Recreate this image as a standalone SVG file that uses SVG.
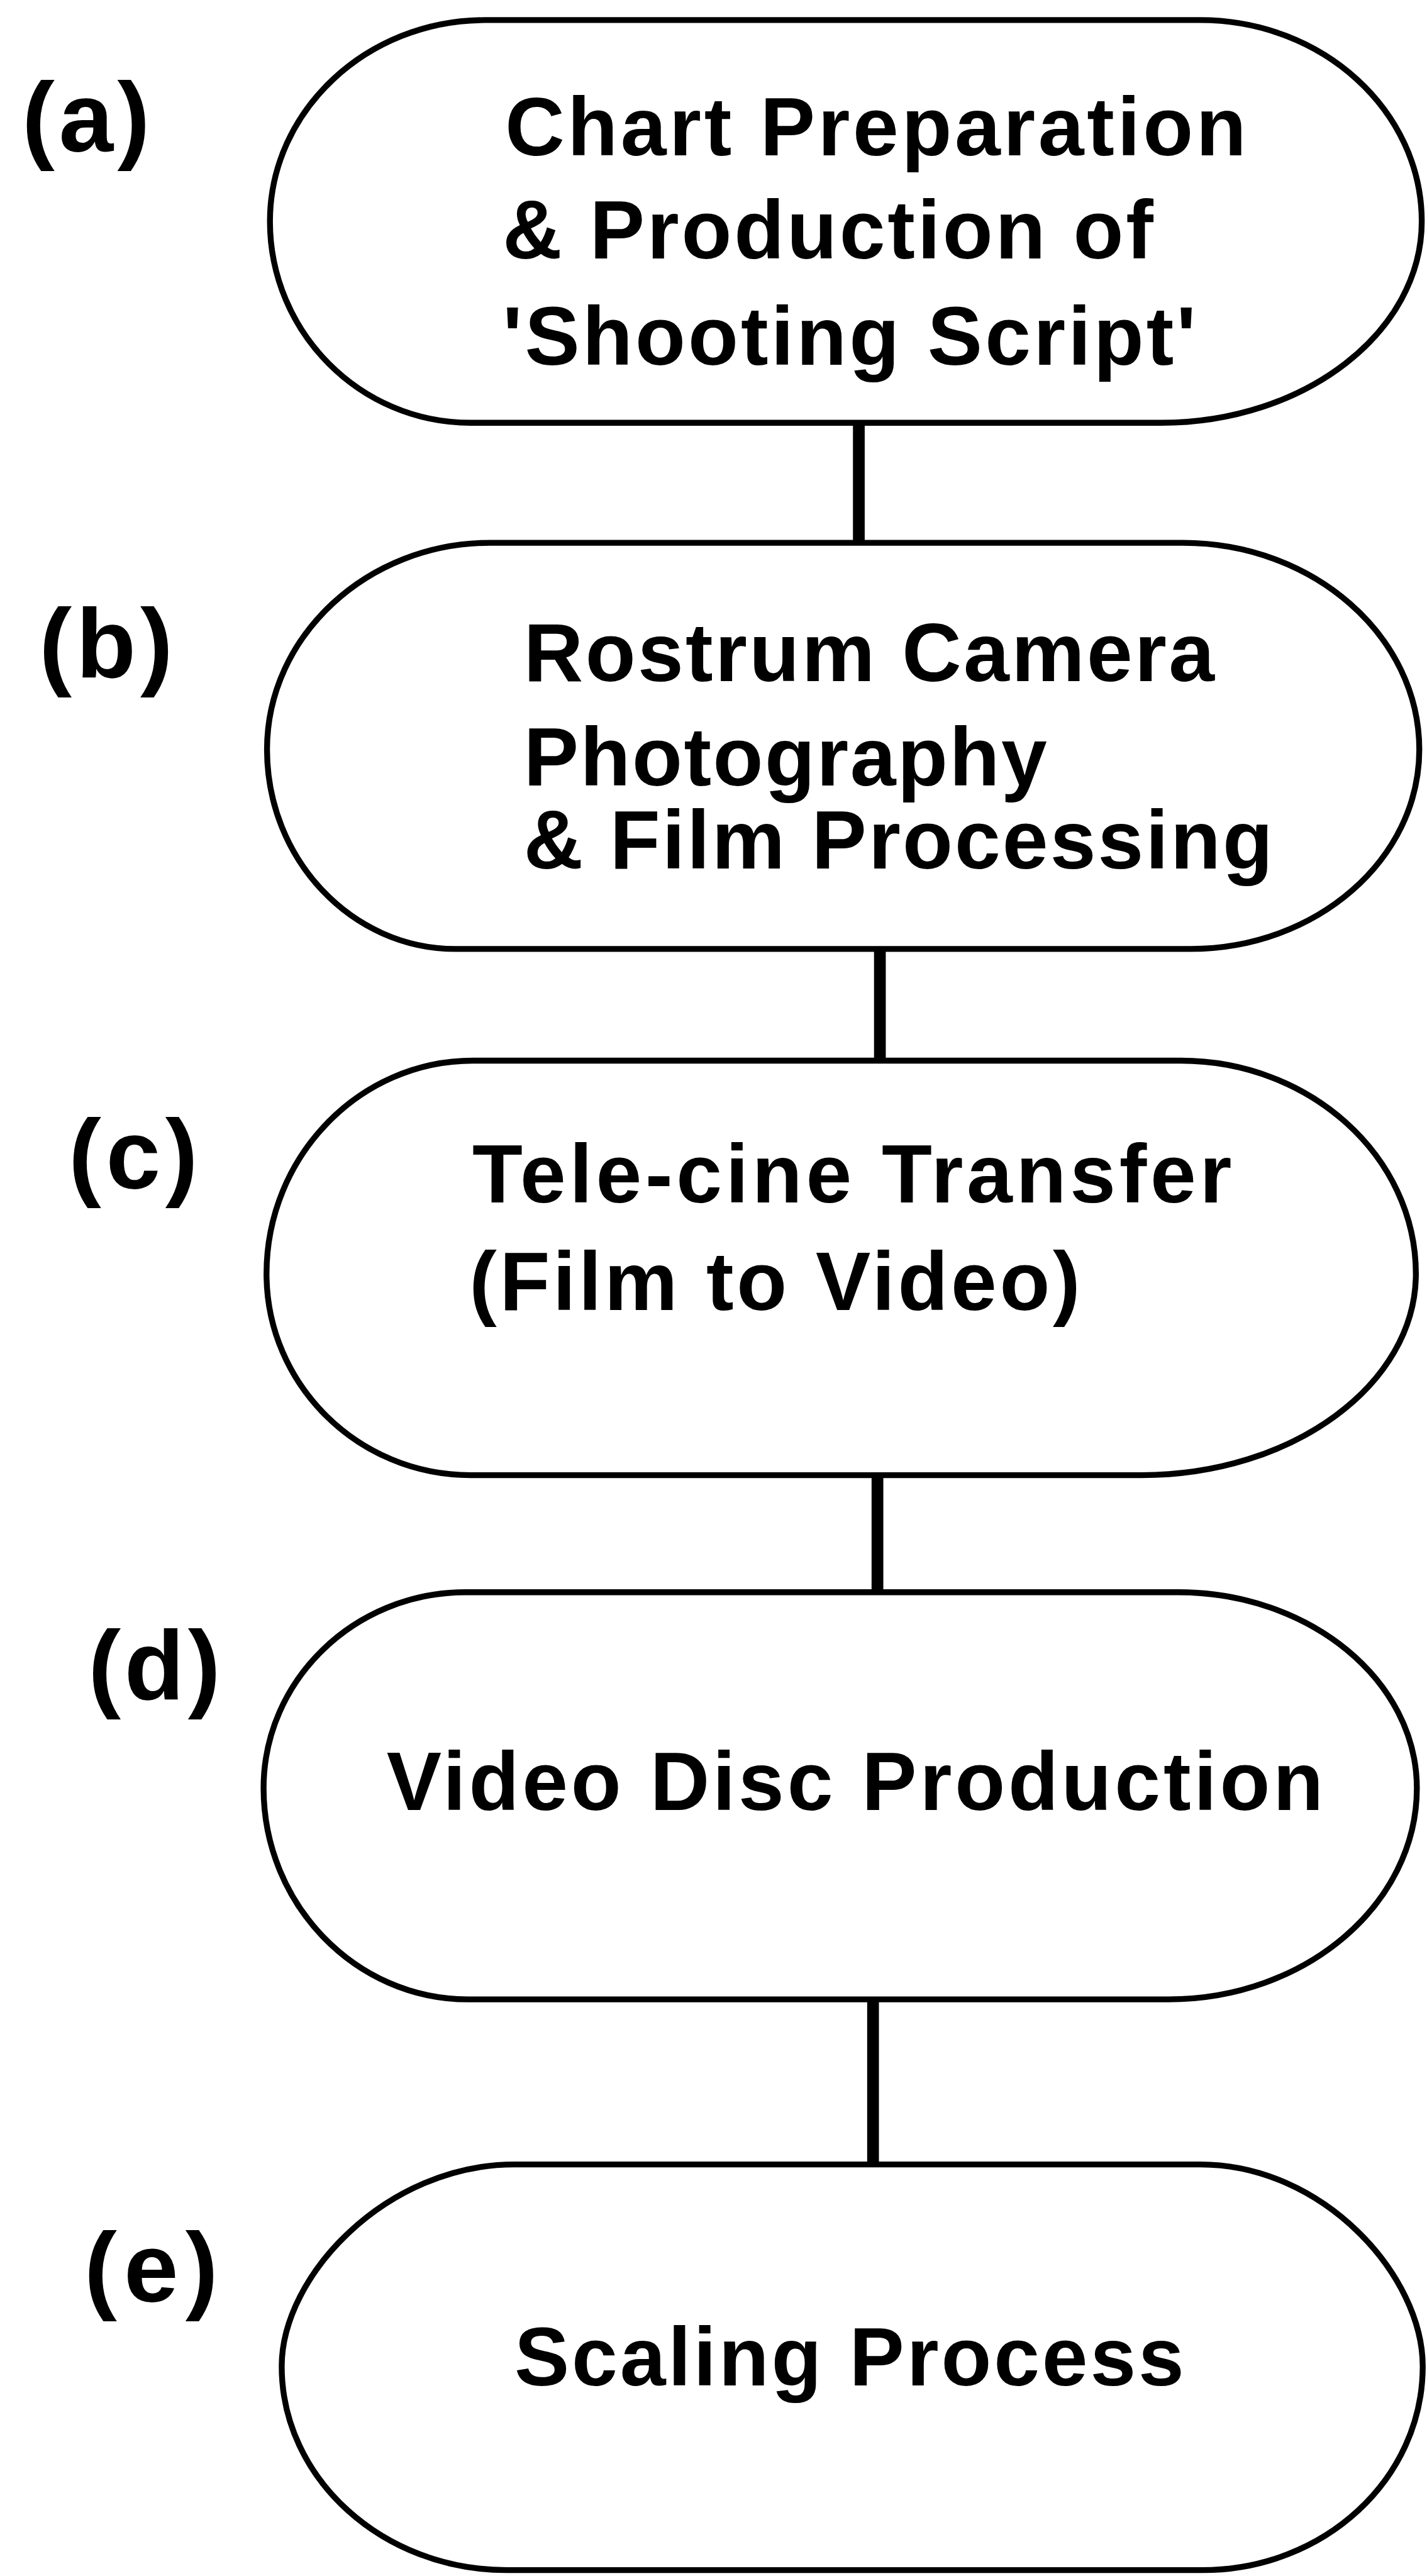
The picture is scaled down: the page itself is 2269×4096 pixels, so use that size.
<svg xmlns="http://www.w3.org/2000/svg" width="2269" height="4096" viewBox="0 0 2269 4096">
<style>
.node{fill:#fff;stroke:#000;stroke-width:12;stroke-linejoin:round}
.conn{stroke:#000;stroke-width:24;fill:none}
.t{font-family:"Liberation Sans",Arial,Helvetica,sans-serif;font-weight:bold;font-size:168px;fill:#000}
.lbl{font-family:"Liberation Sans",Arial,Helvetica,sans-serif;font-weight:bold;font-size:200px;fill:#000}
</style>
<rect width="2269" height="4096" fill="#fff"/>
<g transform="scale(0.779)">
<g id="connectors">
<line class="conn" x1="1753" y1="863" x2="1753" y2="1108"/>
<line class="conn" x1="1796" y1="1937" x2="1796" y2="2165"/>
<line class="conn" x1="1791" y1="3011" x2="1791" y2="3250"/>
<line class="conn" x1="1782" y1="4081" x2="1782" y2="4418"/>
</g>
<g id="node-a">
<path class="node" d="M990,41 L2450,41 C2699,41 2902,226 2902,452 C2902,678 2663,863 2370,863 L960,863 C735,863 551,678 551,452 C551,226 749,41 990,41 Z"/>
<text class="lbl" x="45" y="308" textLength="261" lengthAdjust="spacing">(a)</text>
<text class="t" x="1031" y="317" textLength="1513" lengthAdjust="spacing">Chart Preparation</text>
<text class="t" x="1026" y="528" textLength="1328" lengthAdjust="spacing">&amp; Production of</text>
<text class="t" x="1026" y="745" textLength="1415" lengthAdjust="spacing">'Shooting Script'</text>
</g>
<g id="node-b">
<path class="node" d="M1000,1108 L2415,1108 C2680,1108 2897,1298 2897,1530 C2897,1754 2687,1937 2430,1937 L930,1937 C718,1937 545,1754 545,1530 C545,1298 750,1108 1000,1108 Z"/>
<text class="lbl" x="80" y="1383" textLength="273" lengthAdjust="spacing">(b)</text>
<text class="t" x="1069" y="1390" textLength="1410" lengthAdjust="spacing">Rostrum Camera</text>
<text class="t" x="1069" y="1603" textLength="1068" lengthAdjust="spacing">Photography</text>
<text class="t" x="1069" y="1773" textLength="1529" lengthAdjust="spacing">&amp; Film Processing</text>
</g>
<g id="node-c">
<path class="node" d="M965,2165 L2410,2165 C2674,2165 2890,2361 2890,2600 C2890,2826 2638,3011 2330,3011 L960,3011 C731,3011 544,2826 544,2600 C544,2361 733,2165 965,2165 Z"/>
<text class="lbl" x="140" y="2425" textLength="264" lengthAdjust="spacing">(c)</text>
<text class="t" x="964" y="2455" textLength="1550" lengthAdjust="spacing">Tele-cine Transfer</text>
<text class="t" x="958" y="2674" textLength="1247" lengthAdjust="spacing">(Film to Video)</text>
</g>
<g id="node-d">
<path class="node" d="M950,3250 L2405,3250 C2673,3250 2892,3430 2892,3650 C2892,3887 2664,4081 2385,4081 L955,4081 C726,4081 538,3887 538,3650 C538,3430 723,3250 950,3250 Z"/>
<text class="lbl" x="180" y="3468" textLength="270" lengthAdjust="spacing">(d)</text>
<text class="t" x="789" y="3695" textLength="1912" lengthAdjust="spacing">Video Disc Production</text>
</g>
<g id="node-e">
<path class="node" d="M1050,4418 L2450,4418 C2701,4418 2904,4645 2904,4830 C2904,5060 2703,5246 2454,5246 L1034,5246 C782,5246 575,5060 575,4830 C575,4645 789,4418 1050,4418 Z"/>
<text class="lbl" x="172" y="4697" textLength="273" lengthAdjust="spacing">(e)</text>
<text class="t" x="1050" y="4869" textLength="1367" lengthAdjust="spacing">Scaling Process</text>
</g>
</g>
</svg>
